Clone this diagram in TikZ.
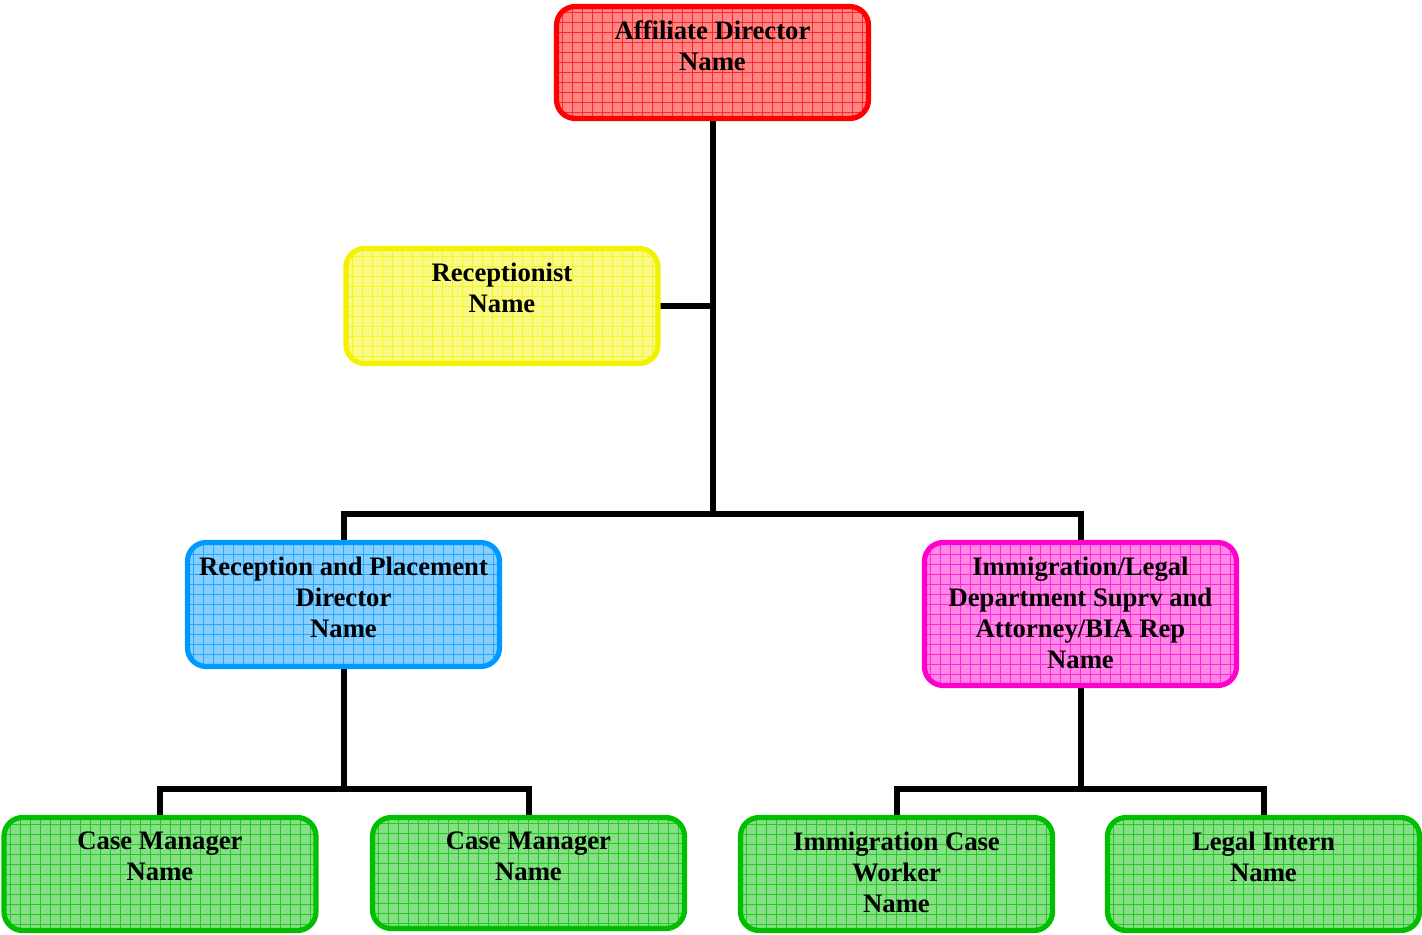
\documentclass[tikz,border=0pt]{standalone}
\usepackage{fontspec}
\setmainfont{Liberation Serif}
\usetikzlibrary{backgrounds}
\definecolor{adred}{RGB}{255,0,0}
\definecolor{recyellow}{RGB}{242,242,0}
\definecolor{rpdblue}{RGB}{0,153,255}
\definecolor{ildmag}{RGB}{255,0,204}
\definecolor{cmgreen}{RGB}{0,190,0}
\tikzset{
  orgbox/.style={draw=#1, fill=#1!48, line width=3.9pt, rounded corners=14pt,
    outer sep=0pt, inner sep=0pt, minimum width=234pt,
    path picture={\draw[#1!85, line width=0.6pt]
      (path picture bounding box.south west) grid[step=7.5pt]
      (path picture bounding box.north east);}},
  boxtext/.style={anchor=north, align=center, inner sep=0pt,
    font=\bfseries\fontsize{20}{23.4}\selectfont},
  conn/.style={draw=black, line width=4.5pt}
}
\begin{document}
\begin{tikzpicture}[x=0.75pt, y=-0.75pt]
\useasboundingbox (0,0) rectangle (1422,935);
% boxes
\node[orgbox=adred, minimum height=112*0.75pt] (ad) at (712.5,62.5) {};
\node[orgbox=recyellow, minimum height=115*0.75pt] (rec) at (502,306) {};
\node[orgbox=rpdblue, minimum height=124*0.75pt] (rpd) at (343.5,604.5) {};
\node[orgbox=ildmag, minimum height=143*0.75pt] (ild) at (1080.5,614) {};
\node[orgbox=cmgreen, minimum height=113*0.75pt] (cma) at (160,874) {};
\node[orgbox=cmgreen, minimum height=111*0.75pt] (cmb) at (528.5,873) {};
\node[orgbox=cmgreen, minimum height=113*0.75pt] (icw) at (896.5,874) {};
\node[orgbox=cmgreen, minimum height=113*0.75pt] (li) at (1263.5,874) {};
% texts
\node[boxtext] (adt) at ([yshift=-14*0.75pt]ad.north) {Affiliate Director\\Name};
\node[boxtext] (rect) at ([yshift=-14*0.75pt]rec.north) {Receptionist\\Name};
\node[boxtext] (rpdt) at ([yshift=-14*0.75pt]rpd.north) {Reception and Placement\\Director\\Name};
\node[boxtext] (ildt) at ([yshift=-14*0.75pt]ild.north) {Immigration/Legal\\Department Suprv and\\Attorney/BIA Rep\\Name};
\node[boxtext] (cmat) at ([yshift=-14*0.75pt]cma.north) {Case Manager\\Name};
\node[boxtext] (cmbt) at ([yshift=-14*0.75pt]cmb.north) {Case Manager\\Name};
\node[boxtext] (icwt) at ([yshift=-14*0.75pt]icw.north) {Immigration Case\\Worker\\Name};
\node[boxtext] (lit) at ([yshift=-14*0.75pt]li.north) {Legal Intern\\Name};
% connectors
\coordinate (j1) at (712.5,514);
\coordinate (j2) at (343.5,789);
\coordinate (j3) at (1080.5,789);
\begin{scope}[on background layer]
\draw[conn] (ad.south) -- (j1);
\draw[conn] (rec.east) -- (rec.east -| ad.south);
\draw[conn] (rpd.north) |- (j1) -| (ild.north);
\draw[conn] (rpd.south) -- (j2);
\draw[conn] (cma.north) |- (j2) -| (cmb.north);
\draw[conn] (ild.south) -- (j3);
\draw[conn] (icw.north) |- (j3) -| (li.north);
\end{scope}
\end{tikzpicture}
\end{document}
